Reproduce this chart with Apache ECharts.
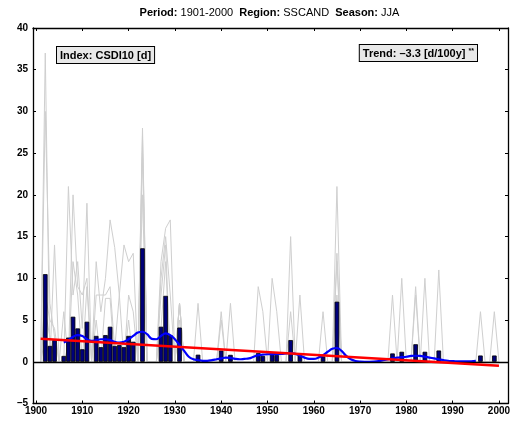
<!DOCTYPE html>
<html>
<head>
<meta charset="utf-8">
<script src="https://cdn.jsdelivr.net/npm/echarts@6/dist/echarts.min.js"></script>
<style>
html,body{margin:0;padding:0;background:#fff;}
#chart{width:514px;height:423px;}
</style>
</head>
<body>
<div id="chart"></div>
<script>
// ---- data ----
var firstYear = 1901;
var barValues = [
  0, 10.5, 1.9, 2.6, 0, 0.7, 2.9, 5.4, 4.0, 1.5,
  4.8, 0, 3.1, 1.75, 3.2, 4.2, 1.9, 2.0, 1.75, 3.1,
  2.4, 0, 13.6, 0, 0, 0, 4.2, 7.9, 3.2, 0,
  4.1, 0, 0, 0, 0.85, 0, 0, 0, 0, 1.35,
  0, 0.83, 0, 0, 0, 0, 0, 1.05, 0.7, 0,
  1.05, 0.8, 0, 0, 2.6, 0, 0.83, 0, 0, 0,
  0, 0.65, 0, 0, 7.2, 0, 0, 0, 0, 0,
  0, 0, 0, 0, 0, 0, 1.0, 0, 1.2, 0,
  0, 2.1, 0, 1.2, 0, 0, 1.35, 0, 0, 0,
  0, 0, 0, 0, 0, 0.75, 0, 0, 0.75, 0
];
var station1 = [
  0, 37, 0, 14, 0, 0, 21, 8, 12, 4,
  19, 0, 12, 6, 10, 17, 13.7, 8, 14, 12,
  13, 0, 28, 0, 0, 0, 12, 16, 17, 0,
  7, 0, 0, 0, 7, 0, 0, 0, 0, 6,
  0, 7, 0, 0, 0, 0, 0, 9, 6, 0,
  10, 6, 0, 0, 15, 0, 8, 0, 0, 0,
  0, 6, 0, 0, 21, 0, 0, 0, 0, 0,
  0, 0, 0, 0, 0, 0, 8, 0, 10, 0,
  0, 9, 0, 10, 0, 0, 11, 0, 0, 0,
  0, 0, 0, 0, 0, 6, 0, 0, 6, 0
];
var station2 = [
  0, 30, 7, 3, 0, 0, 0, 20, 9, 8,
  10, 0, 8, 8, 8, 9, 1.5, 8, 0, 8,
  6, 0, 27, 0, 0, 0, 10, 15, 8, 0,
  7, 0, 0, 0, 0, 0, 0, 0, 0, 5,
  0, 0, 0, 0, 0, 0, 0, 0, 0, 0,
  0, 0, 0, 0, 6, 0, 0, 0, 0, 0,
  0, 0, 0, 0, 13, 0, 0, 0, 0, 0,
  0, 0, 0, 0, 0, 0, 0, 0, 0, 0,
  0, 8, 0, 0, 0, 0, 0, 0, 0, 0,
  0, 0, 0, 0, 0, 0, 0, 0, 0, 0
];
var station3 = [
  0, 8, 5, 4, 0, 6, 0, 12, 8, 0,
  9, 0, 5, 0, 7.6, 7.6, 0, 0, 0, 5,
  0, 0, 25, 0, 0, 0, 8, 14, 0, 0,
  7, 0, 0, 0, 0, 0, 0, 0, 0, 0,
  0, 0, 0, 0, 0, 0, 0, 0, 0, 0,
  0, 0, 0, 0, 0, 0, 0, 0, 0, 0,
  0, 0, 0, 0, 12, 0, 0, 0, 0, 0,
  0, 0, 0, 0, 0, 0, 0, 0, 0, 0,
  0, 0, 0, 0, 0, 0, 0, 0, 0, 0,
  0, 0, 0, 0, 0, 0, 0, 0, 0, 0
];
var station4 = [
  0, 6, 3, 0, 0, 0, 2, 3, 3, 0,
  0, 0, 0, 0, 0, 0, 0, 0, 0, 0,
  0, 0, 20, 0, 0, 0, 4, 12, 0, 0,
  7, 0, 0, 0, 0, 0, 0, 0, 0, 0,
  0, 0, 0, 0, 0, 0, 0, 0, 0, 0,
  0, 0, 0, 0, 0, 0, 0, 0, 0, 0,
  0, 0, 0, 0, 8, 0, 0, 0, 0, 0,
  0, 0, 0, 0, 0, 0, 0, 0, 0, 0,
  0, 0, 0, 0, 0, 0, 0, 0, 0, 0,
  0, 0, 0, 0, 0, 0, 0, 0, 0, 0
];
var station5 = [
  0, 3, 0, 0, 0, 0, 0, 0, 0, 0,
  0, 0, 0, 0, 0, 0, 0, 0, 0, 0,
  0, 0, 9, 0, 0, 0, 0, 6, 0, 0,
  5, 0, 0, 0, 0, 0, 0, 0, 0, 0,
  0, 0, 0, 0, 0, 0, 0, 0, 0, 0,
  0, 0, 0, 0, 0, 0, 0, 0, 0, 0,
  0, 0, 0, 0, 0, 0, 0, 0, 0, 0,
  0, 0, 0, 0, 0, 0, 0, 0, 0, 0,
  0, 0, 0, 0, 0, 0, 0, 0, 0, 0,
  0, 0, 0, 0, 0, 0, 0, 0, 0, 0
];
var smoothFirstYear = 1906;
var smoothValues = [
  2.3, 2.6, 3.0, 3.2, 3.1,
  2.7, 2.5, 2.6, 2.7, 2.7, 2.6, 2.4, 2.3, 2.4, 2.7,
  3.1, 3.5, 3.6, 3.3, 2.75, 2.7, 3.1, 3.4, 3.2, 2.7,
  2.0, 1.3, 0.6, 0.3, 0.2, 0.12, 0.12, 0.2, 0.3, 0.4,
  0.5, 0.45, 0.35, 0.3, 0.35, 0.4, 0.6, 0.8, 0.85, 0.9,
  0.92, 0.92, 0.95, 1.0, 1.05, 0.95, 0.75, 0.5, 0.35, 0.35,
  0.5, 0.8, 1.2, 1.55, 1.65, 1.3, 0.7, 0.3, 0.1, 0.02,
  0.0, 0.0, 0.02, 0.08, 0.2, 0.3, 0.4, 0.5, 0.55, 0.6,
  0.7, 0.72, 0.7, 0.6, 0.5, 0.4, 0.3, 0.2, 0.12, 0.08,
  0.05, 0.04, 0.04, 0.06, 0.1
];
var trendYears = [1901, 2000];
var trendValues = [2.77, -0.48];
var xTickLabels = [1900, 1910, 1920, 1930, 1940, 1950, 1960, 1970, 1980, 1990, 2000];
var yTickLabels = [-5, 0, 5, 10, 15, 20, 25, 30, 35, 40];
var titleParts = ['Period:', '1901-2000', 'Region:', 'SSCAND', 'Season:', 'JJA'];
var indexLabel = 'Index: CSDI10 [d]';
var trendLabel = 'Trend: \u20133.3 [d/100y]';
var trendStars = '**';

// ---- build ----
function pairs(startYear, vals, skipZero) {
  var out = [];
  for (var i = 0; i < vals.length; i++) {
    if (skipZero && vals[i] === 0) continue;
    out.push([startYear + i, vals[i]]);
  }
  return out;
}
var FONT = '"Liberation Sans", Arial, sans-serif';
var grey = '#cfcfcf';
var stations = [station1, station2, station3, station4, station5];
var series = [];
stations.forEach(function (s) {
  series.push({
    type: 'line', data: pairs(firstYear, s, false), symbol: 'none',
    lineStyle: { color: grey, width: 1 }, silent: true, z: 1, animation: false
  });
});
series.push({
  type: 'bar', data: pairs(firstYear, barValues, true), barWidth: 4.6,
  itemStyle: { color: '#00007a', borderColor: '#000', borderWidth: 0.8 },
  z: 2, animation: false,
  markLine: {
    silent: true, symbol: 'none', label: { show: false },
    lineStyle: { color: '#000', width: 1.3, type: 'solid' },
    data: [{ yAxis: 0 }], animation: false
  }
});
series.push({
  type: 'line', data: pairs(smoothFirstYear, smoothValues, false), symbol: 'none', smooth: 0.4,
  lineStyle: { color: '#0000ff', width: 2.2 }, z: 4, animation: false
});
series.push({
  type: 'line', data: trendYears.map(function (y, i) { return [y, trendValues[i]]; }), symbol: 'none',
  lineStyle: { color: '#ff0000', width: 2.5 }, z: 5, animation: false
});

function fmtNum(v) { return v < 0 ? '\u2013' + Math.abs(v) : String(v); }
var axisLabelStyle = { color: '#000', fontFamily: FONT, fontWeight: 'bold', fontSize: 10 };
var option = {
  animation: false,
  backgroundColor: '#fff',
  grid: { left: 33, right: 6, top: 28, bottom: 19.5, containLabel: false },
  xAxis: [{
    type: 'value', min: 1899.35, max: 2001.95, position: 'bottom',
    splitLine: { show: false },
    axisLine: { show: true, onZero: false, lineStyle: { color: '#000', width: 1.3 } },
    axisTick: { show: true, inside: true, length: 3, customValues: xTickLabels, lineStyle: { color: '#000' } },
    axisLabel: Object.assign({ customValues: xTickLabels, margin: 3, formatter: fmtNum }, axisLabelStyle)
  }, {
    type: 'value', min: 1899.35, max: 2001.95, position: 'top',
    splitLine: { show: false },
    axisLine: { show: true, onZero: false, lineStyle: { color: '#000', width: 1.3 } },
    axisTick: { show: true, inside: true, length: 3, customValues: xTickLabels, lineStyle: { color: '#000' } },
    axisLabel: { show: false }
  }],
  yAxis: [{
    type: 'value', min: -5, max: 40, interval: 5, position: 'left',
    splitLine: { show: false },
    axisLine: { show: true, onZero: false, lineStyle: { color: '#000', width: 1.3 } },
    axisTick: { show: true, inside: true, length: 3, lineStyle: { color: '#000' } },
    axisLabel: Object.assign({ margin: 5, customValues: yTickLabels, formatter: fmtNum }, axisLabelStyle)
  }, {
    type: 'value', min: -5, max: 40, interval: 5, position: 'right',
    splitLine: { show: false },
    axisLine: { show: true, onZero: false, lineStyle: { color: '#000', width: 1.3 } },
    axisTick: { show: true, inside: true, length: 3, lineStyle: { color: '#000' } },
    axisLabel: { show: false }
  }],
  series: series,
  graphic: [
    {
      type: 'text', x: 269.5, y: 13, z: 10,
      style: {
        text: '{b|' + titleParts[0] + '} ' + titleParts[1] + '  {b|' + titleParts[2] + '} ' + titleParts[3] + '  {b|' + titleParts[4] + '} ' + titleParts[5],
        align: 'center', verticalAlign: 'middle', fill: '#000',
        fontFamily: FONT, fontSize: 11,
        rich: { b: { fontWeight: 'bold', fontFamily: FONT, fontSize: 11 } }
      }
    },
    {
      type: 'text', x: 57, y: 47, z: 10,
      style: {
        text: indexLabel, fill: '#000', fontFamily: FONT, fontSize: 11, fontWeight: 'bold',
        backgroundColor: '#e8e8e8', borderColor: '#000', borderWidth: 1, padding: [3, 3, 2, 3]
      }
    },
    {
      type: 'text', x: 477, y: 45, z: 10,
      style: {
        text: '{m|' + trendLabel + '} {s|' + trendStars + '}', align: 'right', fill: '#000',
        fontFamily: FONT, fontSize: 11, fontWeight: 'bold',
        backgroundColor: '#e8e8e8', borderColor: '#000', borderWidth: 1, padding: [3, 3, 2, 3],
        rich: {
          m: { fontFamily: FONT, fontSize: 11, fontWeight: 'bold' },
          s: { fontFamily: FONT, fontSize: 7, fontWeight: 'bold', verticalAlign: 'top', padding: [0, 0, 4, 0] }
        }
      }
    }
  ]
};
var chart = echarts.init(document.getElementById('chart'), null, { renderer: 'canvas' });
chart.setOption(option);
</script>
</body>
</html>
